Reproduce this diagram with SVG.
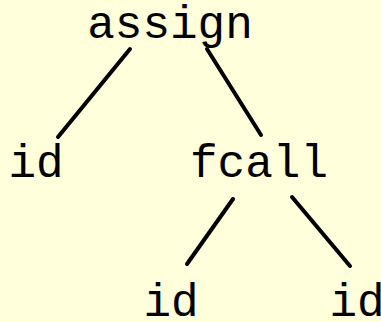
<svg xmlns="http://www.w3.org/2000/svg" width="381" height="322" viewBox="0 0 381 322">
  <style>
    .label { font-family: "Liberation Mono", "Courier New", monospace; font-size: 46px; fill: #000; text-anchor: middle; }
    .edge { stroke: #000; stroke-width: 4; stroke-linecap: round; fill: none; }
  </style>
  <rect width="381" height="322" fill="#ffffdc"/>
  <g id="connectors">
    <line class="edge" x1="130" y1="49" x2="58" y2="137"/>
    <line class="edge" x1="207" y1="49" x2="261" y2="135"/>
    <line class="edge" x1="233" y1="199" x2="187" y2="264"/>
    <line class="edge" x1="292" y1="197" x2="350" y2="266"/>
  </g>
  <g id="assign"><text class="label" x="170" y="38">assign</text></g>
  <g id="id-left"><text class="label" x="36" y="177">id</text></g>
  <g id="fcall"><text class="label" x="259" y="177">fcall</text></g>
  <g id="id-arg1"><text class="label" x="171" y="316">id</text></g>
  <g id="id-arg2"><text class="label" x="357" y="316">id</text></g>
</svg>
